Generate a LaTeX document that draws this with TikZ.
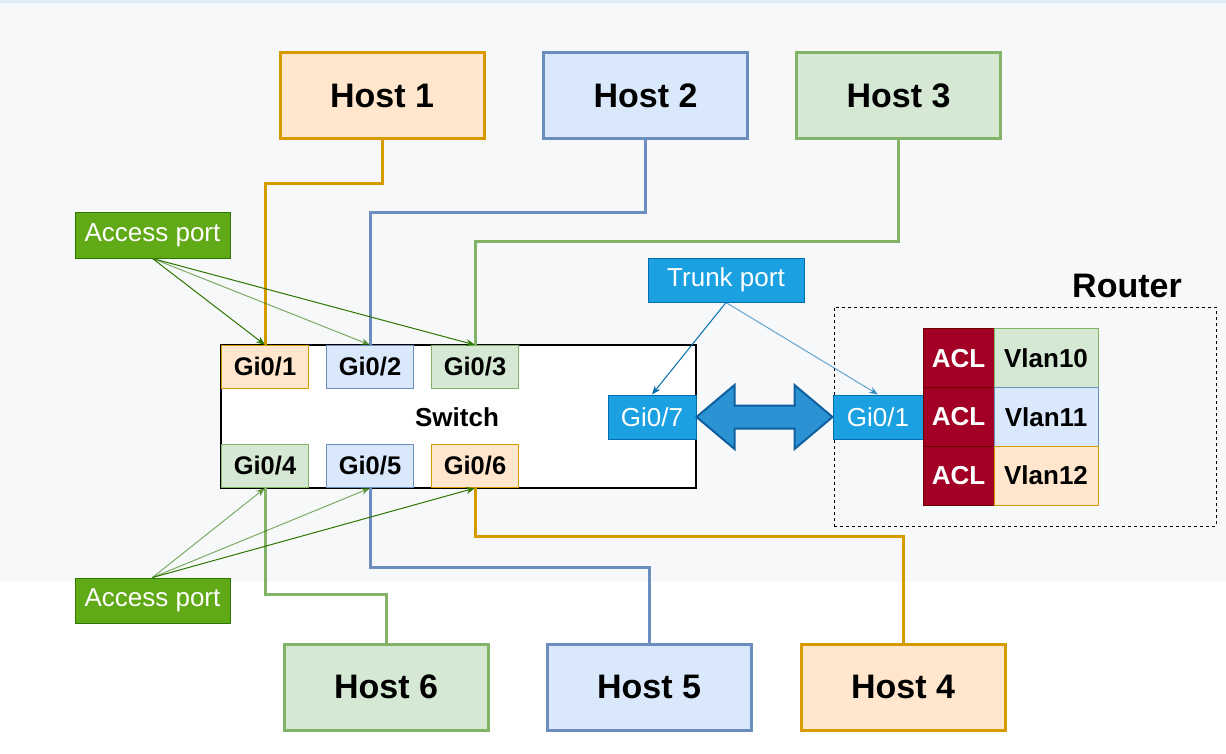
\documentclass[tikz,border=0pt]{standalone}
\usepackage{fontspec}
\setmainfont{Liberation Sans}
\usetikzlibrary{arrows.meta,calc}
\definecolor{bgc}{HTML}{F7F8FA}
\definecolor{topc}{HTML}{DDEBF4}
\definecolor{ofill}{HTML}{FFE6CC}\definecolor{ostroke}{HTML}{D79B00}
\definecolor{bfill}{HTML}{DAE8FC}\definecolor{bstroke}{HTML}{6C8EBF}
\definecolor{gfill}{HTML}{D5E8D4}\definecolor{gstroke}{HTML}{82B366}
\definecolor{accfill}{HTML}{60A917}\definecolor{accstroke}{HTML}{2D7600}
\definecolor{trfill}{HTML}{1BA1E2}\definecolor{trstroke}{HTML}{006EAF}
\definecolor{aclfill}{HTML}{A20025}\definecolor{aclstroke}{HTML}{6F0000}
\definecolor{arrfill}{HTML}{2B92D4}\definecolor{arrstroke}{HTML}{0F5F9E}
\begin{document}
\begin{tikzpicture}[x=1pt,y=-1pt,
  host/.style={draw,line width=3pt,minimum width=204pt,minimum height=86pt,inner sep=0pt,
    font=\fontsize{34}{40}\selectfont\bfseries},
  port/.style={draw,line width=1.2pt,minimum width=87pt,minimum height=43pt,inner sep=0pt,
    font=\fontsize{25.5}{30}\selectfont\bfseries},
  bluebox/.style={draw=trstroke,fill=trfill,line width=1pt,minimum height=44pt,inner sep=0pt,
    text=white,font=\fontsize{26}{30}\selectfont},
  accbox/.style={draw=accstroke,fill=accfill,line width=1pt,minimum width=155pt,minimum height=45pt,
    inner sep=0pt,text=white,font=\fontsize{26}{30}\selectfont},
  aclbox/.style={draw=aclstroke,fill=aclfill,line width=1pt,minimum width=71pt,minimum height=58.7pt,
    inner sep=0pt,text=white,font=\fontsize{26}{30}\selectfont\bfseries},
  vlanbox/.style={draw,line width=1pt,minimum width=104pt,minimum height=58.7pt,inner sep=0pt,
    font=\fontsize{26}{30}\selectfont\bfseries},
  wire/.style={line width=3pt},
  accarrow/.style={draw=accstroke,line width=1pt,-{Stealth[length=9pt,width=7pt]}},
  trarrow/.style={draw=trstroke,line width=1pt,-{Stealth[length=9pt,width=7pt]}},
  ]
\useasboundingbox (0,0) rectangle (1226,754);
\fill[white] (0,0) rectangle (1226,754);
\fill[bgc] (0,0) rectangle (1226,582);
\fill[topc] (0,0) rectangle (1226,3);

% hosts
\node[host,fill=ofill,draw=ostroke] (h1) at (382,96) {Host 1};
\node[host,fill=bfill,draw=bstroke] (h2) at (645.5,96) {Host 2};
\node[host,fill=gfill,draw=gstroke] (h3) at (898.5,96) {Host 3};
\node[host,fill=gfill,draw=gstroke] (h6) at (386,687) {Host 6};
\node[host,fill=bfill,draw=bstroke] (h5) at (649,687) {Host 5};
\node[host,fill=ofill,draw=ostroke] (h4) at (903,687) {Host 4};

% switch
\node[draw=black,fill=white,line width=1.2pt,minimum width=475pt,minimum height=143pt,inner sep=0pt] (sw) at (458.5,416.5) {};
\node[font=\fontsize{26}{30}\selectfont\bfseries] (swl) at (457,417) {Switch};
\node[port,fill=ofill,draw=ostroke] (p1) at (265,367) {Gi0/1};
\node[port,fill=bfill,draw=bstroke] (p2) at (370,367) {Gi0/2};
\node[port,fill=gfill,draw=gstroke] (p3) at (475,367) {Gi0/3};
\node[port,fill=gfill,draw=gstroke] (p4) at (265,466) {Gi0/4};
\node[port,fill=bfill,draw=bstroke] (p5) at (370,466) {Gi0/5};
\node[port,fill=ofill,draw=ostroke] (p6) at (475,466) {Gi0/6};
\node[bluebox,minimum width=88pt] (p7) at (652,417) {Gi0/7};

% host wires
\draw[wire,ostroke] (h1.south) -- ++(0,43) -| (p1.north);
\draw[wire,bstroke] (h2.south) -- ++(0,72) -| (p2.north);
\draw[wire,gstroke] (h3.south) -- ++(0,101) -| (p3.north);
\draw[wire,gstroke] (p4.south) -- ++(0,106) -| (h6.north);
\draw[wire,bstroke] (p5.south) -- ++(0,79) -| (h5.north);
\draw[wire,ostroke] (p6.south) -- ++(0,48) -| (h4.north);

% access ports
\node[accbox] (acc1) at (152.5,235.5) {Access port};
\node[accbox] (acc2) at (152.5,600.5) {Access port};
\draw[accarrow] (acc1.south) -- (p1.north);
\draw[accarrow,opacity=0.6] (acc1.south) -- (p2.north);
\draw[accarrow] (acc1.south) -- (p3.north);
\draw[accarrow,opacity=0.6] (acc2.north) -- (p4.south);
\draw[accarrow,opacity=0.6] (acc2.north) -- (p5.south);
\draw[accarrow] (acc2.north) -- (p6.south);

% router
\node[draw=black,dash pattern=on 3pt off 3pt,line width=1pt,minimum width=382pt,minimum height=219pt,inner sep=0pt] (rt) at (1025,416.5) {};
\node[font=\fontsize{34}{40}\selectfont\bfseries] (rtl) at (1127,286) {Router};
\node[bluebox,minimum width=90pt] (r1) at (878,417) {Gi0/1};
\node[aclbox] (a1) at (958.5,358.3) {ACL};
\node[aclbox] (a2) at (958.5,417) {ACL};
\node[aclbox] (a3) at (958.5,475.7) {ACL};
\node[vlanbox,fill=gfill,draw=gstroke] (v1) at (1046,358.3) {Vlan10};
\node[vlanbox,fill=bfill,draw=bstroke] (v2) at (1046,417) {Vlan11};
\node[vlanbox,fill=ofill,draw=ostroke] (v3) at (1046,475.7) {Vlan12};

% trunk
\node[bluebox,minimum width=156pt] (tr) at (726,280) {Trunk port};
\draw[trarrow] (tr.south) -- (p7.north);
\draw[trarrow,opacity=0.6] (tr.south) -- (r1.north);

% double arrow
\coordinate (dl) at (p7.east);
\coordinate (dr) at (r1.west);
\draw[fill=arrfill,draw=arrstroke,line width=2pt,line join=miter]
  (dl) -- ++(38,-32) -- ++(0,20.5) -- ($(dr)+(-38,-11.5)$) -- ++(0,-20.5) -- (dr)
  -- ++(-38,32) -- ++(0,-20.5) -- ($(dl)+(38,11.5)$) -- ++(0,20.5) -- cycle;
\end{tikzpicture}
\end{document}
